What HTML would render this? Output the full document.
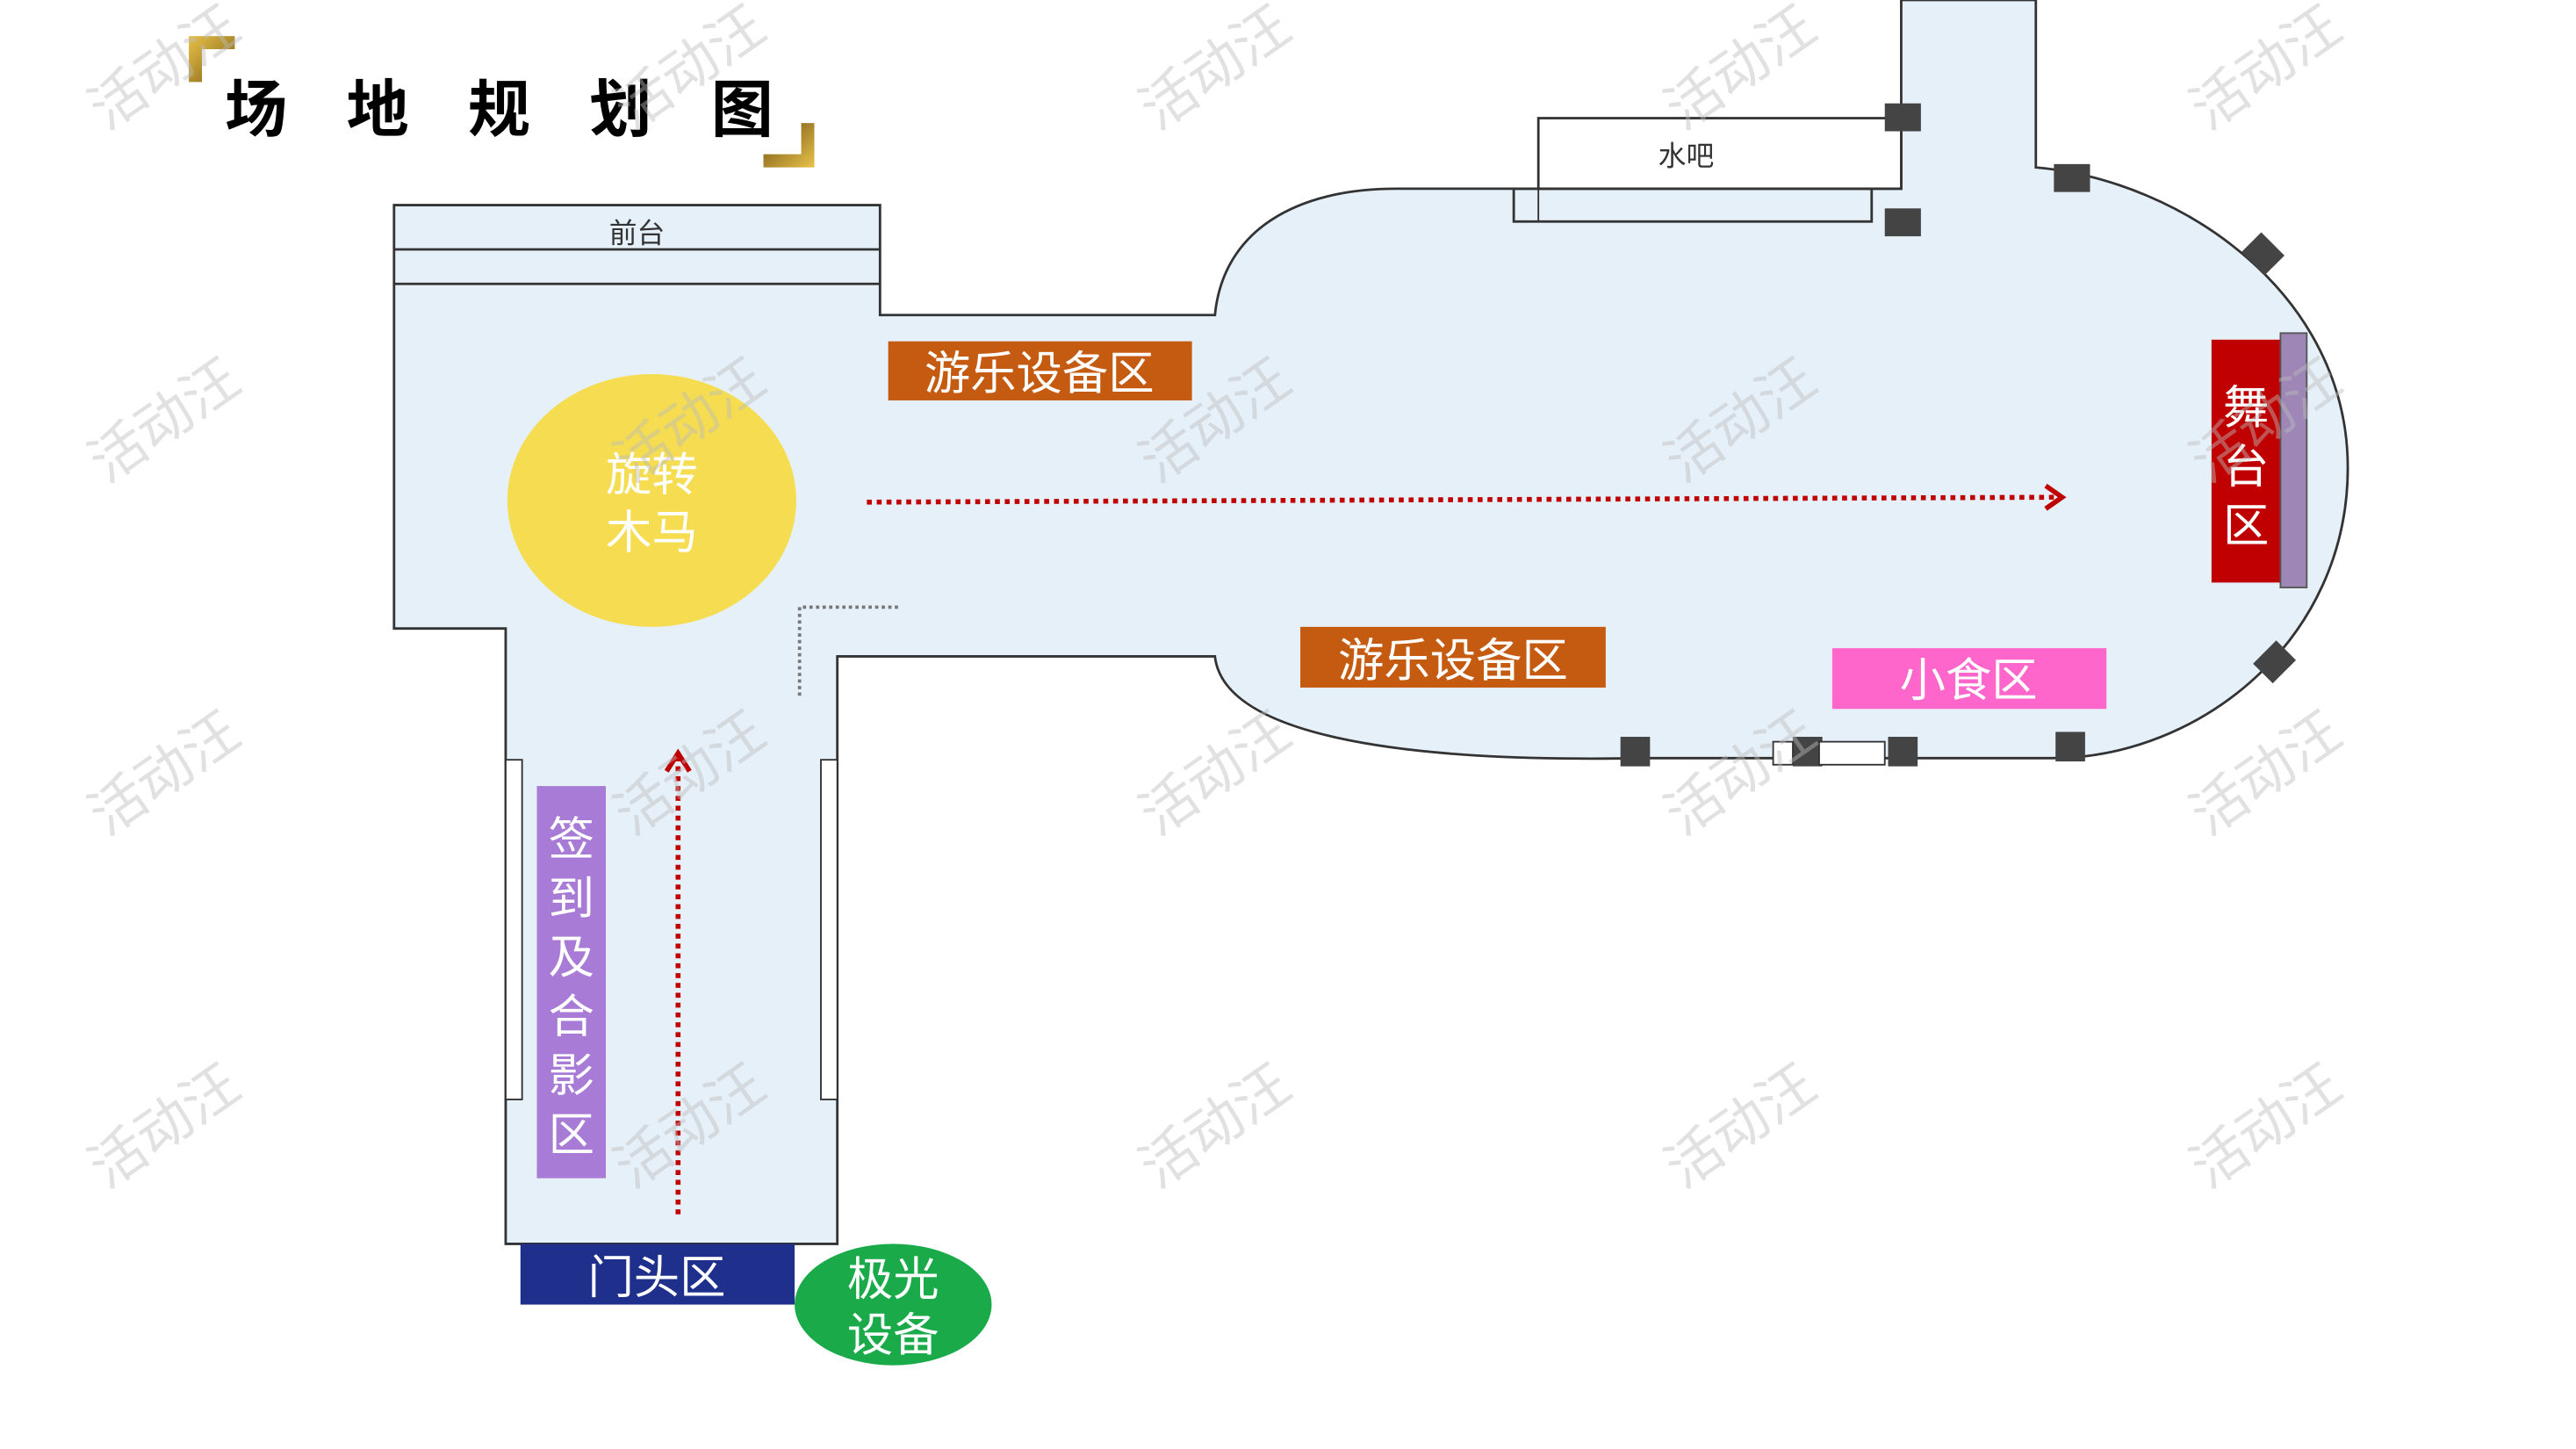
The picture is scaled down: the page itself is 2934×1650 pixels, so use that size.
<!DOCTYPE html>
<html><head><meta charset="utf-8"><style>
html,body{margin:0;padding:0;background:#fff;}
svg{display:block;}
text{font-family:"Liberation Sans","Noto Sans CJK SC",sans-serif;}
</style></head><body>
<svg width="2934" height="1650" viewBox="0 0 1569 883" preserveAspectRatio="none" xmlns="http://www.w3.org/2000/svg">
<defs>
<linearGradient id="g" x1="0" y1="0" x2="1" y2="1"><stop offset="0" stop-color="#e8c24a"/><stop offset="1" stop-color="#7a5a10"/></linearGradient>
<linearGradient id="g2" x1="0" y1="0" x2="1" y2="1"><stop offset="0" stop-color="#6a4a10"/><stop offset="1" stop-color="#e8c24a"/></linearGradient>
</defs>
<rect width="1569" height="883" fill="#fff"/>
<path d="M115,22 H143 V30 H123 V50 H115 Z" fill="url(#g)"/>
<path d="M488,75 H496 V102 H465 V94 H488 Z" fill="url(#g2)"/>
<text x="137" y="80" font-size="38" font-weight="bold" fill="#000">场</text>
<text x="211" y="80" font-size="38" font-weight="bold" fill="#000">地</text>
<text x="285" y="80" font-size="38" font-weight="bold" fill="#000">规</text>
<text x="359" y="80" font-size="38" font-weight="bold" fill="#000">划</text>
<text x="433" y="80" font-size="38" font-weight="bold" fill="#000">图</text>
<path d="M240,125 L536,125 L536,192 L740,192 C745,140 790,115 850,115 L1158,115 L1158,0 L1240,0 L1240,102 C1330,110 1430,180 1430,285 C1430,390 1340,462 1250,462 L1000,462 C840,465 745,445 740,400 L510,400 L510,758 L308,758 L308,383 L240,383 Z" fill="#e6f0f8" stroke="#333" stroke-width="1.5"/>
<line x1="240" y1="152" x2="536" y2="152" stroke="#333" stroke-width="1.5"/>
<line x1="240" y1="173" x2="536" y2="173" stroke="#333" stroke-width="1.5"/>
<text x="388" y="148" font-size="17" fill="#333" text-anchor="middle">前台</text>
<rect x="937" y="72" width="221" height="43" fill="#fff" stroke="#333" stroke-width="1.5"/>
<text x="1027" y="101" font-size="17" fill="#333" text-anchor="middle">水吧</text>
<rect x="922" y="115" width="218" height="20" fill="none" stroke="#333" stroke-width="1.5"/>
<line x1="937" y1="115" x2="937" y2="135" stroke="#333"/>
<rect x="1148" y="63" width="22" height="17" fill="#444"/>
<rect x="1148" y="127" width="22" height="17" fill="#444"/>
<rect x="1251" y="100" width="22" height="17" fill="#444"/>
<rect x="1368" y="146" width="20" height="17" fill="#444" transform="rotate(45 1378 155)"/>
<rect x="1375" y="395" width="20" height="17" fill="#444" transform="rotate(-45 1385 403)"/>
<rect x="987" y="449" width="18" height="18" fill="#444"/>
<rect x="1092" y="449" width="18" height="18" fill="#444"/>
<rect x="1150" y="449" width="18" height="18" fill="#444"/>
<rect x="1252" y="446" width="18" height="18" fill="#444"/>
<rect x="1108" y="452" width="40" height="14" fill="#fff" stroke="#333"/>
<rect x="1080" y="452" width="12" height="14" fill="#fff" stroke="#333"/>
<path d="M547,370 H487 V425" fill="none" stroke="#777" stroke-width="2" stroke-dasharray="2,2"/>
<rect x="308" y="463" width="10" height="207" fill="#fff" stroke="#333"/>
<rect x="500" y="463" width="10" height="207" fill="#fff" stroke="#333"/>
<ellipse cx="397" cy="305" rx="88" ry="77" fill="#f5dc50"/>
<text x="397" y="299" font-size="28" fill="#fff" text-anchor="middle">旋转</text>
<text x="397" y="334" font-size="28" fill="#fff" text-anchor="middle">木马</text>
<rect x="541" y="208" width="185" height="36" fill="#c55a11"/>
<text x="633" y="237" font-size="28" fill="#fff" text-anchor="middle">游乐设备区</text>
<rect x="792" y="382" width="186" height="37" fill="#c55a11"/>
<text x="885" y="412" font-size="28" fill="#fff" text-anchor="middle">游乐设备区</text>
<rect x="1116" y="395" width="167" height="37" fill="#ff66cc"/>
<text x="1199" y="424" font-size="28" fill="#fff" text-anchor="middle">小食区</text>
<rect x="1347" y="207" width="42" height="148" fill="#c00000"/>
<rect x="1389" y="203" width="16" height="155" fill="#9e87b6" stroke="#555" stroke-width="1"/>
<text x="1368" y="258" font-size="28" fill="#fff" text-anchor="middle">舞</text>
<text x="1368" y="294" font-size="28" fill="#fff" text-anchor="middle">台</text>
<text x="1368" y="330" font-size="28" fill="#fff" text-anchor="middle">区</text>
<rect x="327" y="479" width="42" height="239" fill="#a87bd6"/>
<text x="348" y="521" font-size="28" fill="#fff" text-anchor="middle">签</text>
<text x="348" y="557" font-size="28" fill="#fff" text-anchor="middle">到</text>
<text x="348" y="593" font-size="28" fill="#fff" text-anchor="middle">及</text>
<text x="348" y="629" font-size="28" fill="#fff" text-anchor="middle">合</text>
<text x="348" y="665" font-size="28" fill="#fff" text-anchor="middle">影</text>
<text x="348" y="701" font-size="28" fill="#fff" text-anchor="middle">区</text>
<rect x="317" y="758" width="167" height="37" fill="#1f2f8c"/>
<text x="400" y="788" font-size="28" fill="#fff" text-anchor="middle">门头区</text>
<ellipse cx="544" cy="795" rx="60" ry="37" fill="#1aaa4a"/>
<text x="544" y="789" font-size="28" fill="#fff" text-anchor="middle">极光</text>
<text x="544" y="823" font-size="28" fill="#fff" text-anchor="middle">设备</text>
<line x1="528" y1="306" x2="1254" y2="303" stroke="#c00000" stroke-width="3" stroke-dasharray="3,3"/>
<path d="M1246,296 L1256,303 L1246,310" fill="none" stroke="#c00000" stroke-width="3"/>
<line x1="413" y1="740" x2="413" y2="462" stroke="#c00000" stroke-width="3" stroke-dasharray="3,3"/>
<path d="M406,470 L413,459 L420,470" fill="none" stroke="#c00000" stroke-width="3"/>
<g fill="#bbb" opacity="0.45" font-size="34">
<text transform="translate(65,80) rotate(-35)">活动汪</text>
<text transform="translate(385,80) rotate(-35)">活动汪</text>
<text transform="translate(705,80) rotate(-35)">活动汪</text>
<text transform="translate(1025,80) rotate(-35)">活动汪</text>
<text transform="translate(1345,80) rotate(-35)">活动汪</text>
<text transform="translate(65,295) rotate(-35)">活动汪</text>
<text transform="translate(385,295) rotate(-35)">活动汪</text>
<text transform="translate(705,295) rotate(-35)">活动汪</text>
<text transform="translate(1025,295) rotate(-35)">活动汪</text>
<text transform="translate(1345,295) rotate(-35)">活动汪</text>
<text transform="translate(65,510) rotate(-35)">活动汪</text>
<text transform="translate(385,510) rotate(-35)">活动汪</text>
<text transform="translate(705,510) rotate(-35)">活动汪</text>
<text transform="translate(1025,510) rotate(-35)">活动汪</text>
<text transform="translate(1345,510) rotate(-35)">活动汪</text>
<text transform="translate(65,725) rotate(-35)">活动汪</text>
<text transform="translate(385,725) rotate(-35)">活动汪</text>
<text transform="translate(705,725) rotate(-35)">活动汪</text>
<text transform="translate(1025,725) rotate(-35)">活动汪</text>
<text transform="translate(1345,725) rotate(-35)">活动汪</text>
</g>
</svg>
</body></html>
